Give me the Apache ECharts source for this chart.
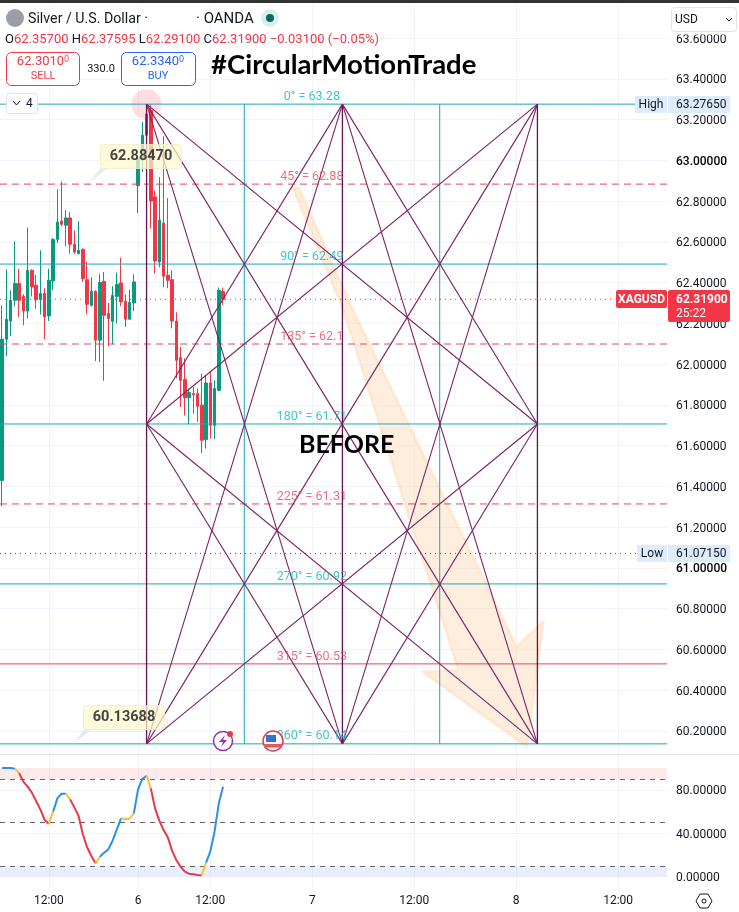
<!DOCTYPE html>
<html>
<head>
<meta charset="utf-8">
<style>html,body{margin:0;padding:0;background:#fff}#main{width:739px;height:912px}</style>
<script src="https://cdn.jsdelivr.net/npm/echarts@6/dist/echarts.min.js"></script>
</head>
<body>
<div id="main"></div>
<script>
// 30 min bars, [open, close, low, high]
var candles = [
  [61.430,62.123,61.303,62.289],[62.123,62.221,62.040,62.466],[62.212,62.314,62.139,62.363],[62.314,62.396,62.284,62.603],
  [62.396,62.314,62.232,62.469],[62.333,62.261,62.191,62.343],[62.261,62.461,62.224,62.671],[62.461,62.379,62.333,62.466],
  [62.388,62.317,62.273,62.437],[62.317,62.347,62.244,62.559],[62.347,62.232,62.123,62.373],[62.237,62.412,62.212,62.469],
  [62.409,62.613,62.363,62.618],[62.613,62.698,62.595,62.859],[62.703,62.687,62.677,62.898],[62.682,62.718,62.579,62.756],
  [62.718,62.589,62.543,62.747],[62.589,62.551,62.543,62.657],[62.543,62.559,62.540,62.702],[62.563,62.420,62.404,62.569],
  [62.415,62.294,62.245,62.502],[62.289,62.358,62.284,62.427],[62.358,62.118,62.016,62.363],[62.118,62.401,62.011,62.442],
  [62.407,62.240,61.918,62.453],[62.249,62.224,62.088,62.301],[62.211,62.338,62.098,62.383],[62.333,62.391,62.202,62.450],
  [62.399,62.306,62.284,62.523],[62.309,62.221,62.183,62.343],[62.221,62.304,62.221,62.366],[62.301,62.404,62.260,62.442],
  [62.876,63.011,62.742,63.026],[63.001,63.124,62.944,63.189],[63.124,63.227,63.109,63.276],[63.246,62.801,62.666,63.276],
  [62.821,62.507,62.445,62.854],[62.502,62.707,62.476,62.919],[62.693,62.432,62.378,63.119],[62.437,62.412,62.373,62.815],
  [62.415,62.212,62.176,62.461],[62.212,62.019,61.931,62.255],[62.033,61.921,61.790,62.085],[61.926,61.836,61.749,62.029],
  [61.836,61.861,61.705,61.881],[61.856,61.850,61.758,61.888],[61.856,61.794,61.717,61.881],[61.799,61.627,61.564,61.954],
  [61.630,61.908,61.586,61.946],[61.908,61.700,61.635,61.961],[61.700,61.881,61.632,61.921],[61.872,62.363,61.869,62.377],
  [62.357,62.319,62.291,62.376]
];
var oscValues = [100.1,100.1,100.1,99.5,95.2,87.5,82.9,77.4,69.7,62,52.2,48.8,59.9,72.1,76.4,76.4,71.2,63.8,55.9,39,27,19,12.2,18.4,22,25.1,33.1,43.6,53.7,53.1,53.4,58.3,80.4,90,93,81.3,62.9,51.6,42.9,36.2,23.9,15.3,9.2,4.6,2.7,2.1,1.5,1.2,12.8,23,41.4,67.5,82.9];
// colour runs of the oscillator: [from bar, to bar, colour]
var oscRuns = [[0,3,'#2e8fe8'],[3,4,'#f5c13c'],[4,11,'#e8394a'],[11,12,'#f5c13c'],[12,15,'#2e8fe8'],[15,16,'#f5c13c'],[16,22,'#e8394a'],[22,23,'#f5c13c'],[23,28,'#2e8fe8'],[28,31,'#f5c13c'],[31,34,'#2e8fe8'],[34,35,'#f5c13c'],[35,47,'#e8394a'],[47,48,'#f5c13c'],[48,52,'#2e8fe8']];

var slotCount = 157;
var timeBars = [11,32,49,73,97,121,145];
var timeLabels = ['12:00','6','12:00','7','12:00','8','12:00'];
var priceTicks = [60.2,60.4,60.6,60.8,61,61.2,61.4,61.6,61.8,62,62.2,62.4,62.6,62.8,63,63.2,63.4,63.6];
var oscTicks = [0,40,80];

// gann square
var levels = [63.2765,62.884,62.4916,62.0992,61.7067,61.3143,60.9218,60.5294,60.1369];
var levelText = ['0° = 63.28','45° = 62.88','90° = 62.49','135° = 62.1','180° = 61.71','225° = 61.31','270° = 60.92','315° = 60.53','360° = 60.14'];
var boxBars = [34.5,57.5,80.6,103.5,126.5];
// each edge: [bar index, level index, bar index, level index]
var gannEdges = [
  [0,0,4,8],[0,8,4,0],[0,0,2,8],[0,0,4,4],[4,0,2,8],[4,0,0,4],[0,8,2,0],[0,8,4,4],
  [4,8,2,0],[4,8,0,4],[0,4,2,0],[0,4,2,8],[4,4,2,0],[4,4,2,8]
];
var lastPrice = 62.319, lowPrice = 61.0715;

// the hand drawn arrow, in bars and prices
var arrowBars = [68.97,70.39,83.1,107.1,121.6,127.9,124,99.5,107.9,96.5,80.8];
var arrowPrices = [62.865,62.865,62.266,61.236,60.614,60.737,60.123,60.491,60.499,61.236,62.266];

var teal = '#17a9ba', red = '#dd4a5c', purple = '#7d2160', darkPurple = '#661150';
var font = 'Roboto', textColor = '#131722';

var categories = [];
for (var i = 0; i < slotCount; i++) {
  var t = timeBars.indexOf(i);
  categories.push(t >= 0 ? timeLabels[t] : '');
}
var hasLabel = function (idx, val) { return val !== ''; };

function flatLine(level, fromBar, toBar, color, type, width) {
  return {
    type: 'line', xAxisIndex: 1, yAxisIndex: 0, symbol: 'none', silent: true, z: 4, animation: false,
    lineStyle: { color: color, type: type, width: width },
    data: [[fromBar, level], [toBar, level]]
  };
}
function edgeLine(a, b, c, d, color, width) {
  return {
    type: 'line', xAxisIndex: 1, yAxisIndex: 0, symbol: 'none', silent: true, z: 5, animation: false,
    lineStyle: { color: color, width: width },
    data: [[boxBars[a], levels[b]], [boxBars[c], levels[d]]]
  };
}

var series = [];
series.push({
  type: 'custom', xAxisIndex: 1, yAxisIndex: 0, z: 1, silent: true, data: [[0, 60.2]],
  renderItem: function (params, api) {
    var pts = arrowBars.map(function (b, k) { return api.coord([b, arrowPrices[k]]); });
    return {
      type: 'polygon', shape: { points: pts },
      style: { fill: 'rgba(255,214,176,0.42)', stroke: 'rgba(255,214,176,0.42)', lineWidth: 3, lineJoin: 'round' }
    };
  }
});
series.push({
  type: 'candlestick', xAxisIndex: 0, yAxisIndex: 0, z: 2, barWidth: 3, silent: true,
  itemStyle: { color: '#089981', color0: '#f23645', borderColor: '#089981', borderColor0: '#f23645', borderWidth: 1 },
  data: candles
});
series.push({
  type: 'scatter', xAxisIndex: 1, yAxisIndex: 0, z: 3, silent: true, symbolSize: 30,
  itemStyle: { color: 'rgba(242,54,69,0.2)' }, data: [[boxBars[0], levels[0]]]
});
levels.forEach(function (lv, k) {
  var isTeal = k % 2 === 0;
  var type = k === 7 || isTeal ? 'solid' : [7, 5];
  series.push(flatLine(lv, 0, slotCount, isTeal ? teal : red, type, 1));
});
series.push(flatLine(lastPrice, 0, 144.5, '#f23645', [1, 4], 1));
series.push(flatLine(lowPrice, 0, 150, '#555', [1, 4], 1));
series.push(edgeLine(1, 0, 1, 8, teal, 1));
series.push(edgeLine(3, 0, 3, 8, teal, 1));
series.push(edgeLine(0, 0, 0, 8, darkPurple, 1.3));
series.push(edgeLine(2, 0, 2, 8, darkPurple, 1.3));
series.push(edgeLine(4, 0, 4, 8, darkPurple, 1.3));
gannEdges.forEach(function (e) { series.push(edgeLine(e[0], e[1], e[2], e[3], purple, 1.1)); });
series.push({
  type: 'scatter', xAxisIndex: 1, yAxisIndex: 0, z: 6, symbolSize: 0, silent: true,
  data: levels.map(function (lv, k) {
    return {
      value: [73.4, lv],
      label: {
        show: true, position: 'top', distance: 1, formatter: levelText[k], fontFamily: font, fontSize: 12.5,
        color: k % 2 === 0 ? '#14b4c6' : '#ea4a5e'
      }
    };
  })
});

// oscillator pane
oscRuns.forEach(function (run) {
  var seg = [];
  for (var b = run[0]; b <= run[1]; b++) seg.push([b, oscValues[b]]);
  series.push({
    type: 'line', xAxisIndex: 2, yAxisIndex: 1, symbol: 'none', z: 5, silent: true, animation: false,
    lineStyle: { color: run[2], width: 2 }, data: seg
  });
});
series.push({
  type: 'line', xAxisIndex: 2, yAxisIndex: 1, symbol: 'none', silent: true, z: 2, data: [],
  markArea: {
    silent: true,
    data: [
      [{ yAxis: 90, itemStyle: { color: 'rgba(242,54,69,0.11)' } }, { yAxis: 100 }],
      [{ yAxis: 0, itemStyle: { color: 'rgba(41,98,255,0.1)' } }, { yAxis: 10 }]
    ]
  },
  markLine: {
    silent: true, symbol: 'none', label: { show: false },
    lineStyle: { color: '#666', type: [5, 5], width: 1 },
    data: [{ yAxis: 90 }, { yAxis: 50 }, { yAxis: 10 }]
  }
});

function axisLabelRich(dec) {
  return { fontFamily: font, fontSize: 12, color: textColor, margin: 9, padding: [3, 0, 0, 0],
    formatter: function (v) {
      var s = v.toFixed(dec);
      return (v === 63 || v === 61) ? '{b|' + s + '}' : s;
    },
    rich: { b: { fontFamily: font, fontSize: 12, fontWeight: 500, color: '#000' } }
  };
}
var gridLine = { show: true, lineStyle: { color: '#f0f3fa', width: 1 } };

function tx(x, y, text, size, color, extra) {
  var st = { x: x, y: y, text: text, fontFamily: font, fontSize: size, fill: color, verticalAlign: 'middle' };
  for (var k in (extra || {})) st[k] = extra[k];
  return { type: 'text', z: 50, style: st };
}
function box(x, y, w, h, fill, stroke, r) {
  return { type: 'rect', z: 49, shape: { x: x, y: y, width: w, height: h, r: r || 0 }, style: { fill: fill, stroke: stroke || null, lineWidth: 1 } };
}
function dot(x, y, r, fill, stroke, lw) {
  return { type: 'circle', z: 49, shape: { cx: x, cy: y, r: r }, style: { fill: fill, stroke: stroke || null, lineWidth: lw || 1 } };
}
function poly(points, fill, stroke, close) {
  return { type: close === false ? 'polyline' : 'polygon', z: 49, shape: { points: points }, style: { fill: fill, stroke: stroke || null, lineWidth: 1 } };
}

var graphics = [
  box(0, 0, 739, 3, '#333'),
  { type: 'line', z: 3, shape: { x1: 0, y1: 754.5, x2: 739, y2: 754.5 }, style: { stroke: '#e0e3eb', lineWidth: 1 } },
  // header
  dot(15, 18, 9, '#9c9ea6'),
  tx(28, 19, 'Silver / U.S. Dollar ·', 14.2, textColor),
  tx(196, 19, '· OANDA', 15, textColor),
  dot(270, 18, 9, '#d8efec'),
  dot(270, 18, 4, '#0b6b5b'),
  tx(5, 40, '{k|O}{v|62.35700} {k|H}{v|62.37595} {k|L}{v|62.29100} {k|C}{v|62.31900} {v|−0.03100 (−0.05%)}', 13, textColor, {
    rich: {
      k: { fontFamily: font, fontSize: 13, fill: textColor, color: textColor },
      v: { fontFamily: font, fontSize: 13, fill: '#f23645', color: '#f23645' }
    }
  }),
  box(6.5, 52.5, 73, 33, '#fff', '#f23645', 5),
  tx(43, 62, '{a|62.3010}{b|0}', 13, '#f23645', { align: 'center', rich: { a: { fontFamily: font, fontSize: 13, color: '#f23645' }, b: { fontFamily: font, fontSize: 9, color: '#f23645', verticalAlign: 'top' } } }),
  tx(43, 76, 'SELL', 11, '#f23645', { align: 'center' }),
  tx(101, 69, '330.0', 11, textColor, { align: 'center' }),
  box(121.5, 52.5, 74, 33, '#fff', '#2962ff', 5),
  tx(158, 62, '{a|62.3340}{b|0}', 13, '#2962ff', { align: 'center', rich: { a: { fontFamily: font, fontSize: 13, color: '#2962ff' }, b: { fontFamily: font, fontSize: 9, color: '#2962ff', verticalAlign: 'top' } } }),
  tx(158, 76, 'BUY', 11, '#2962ff', { align: 'center' }),
  tx(211, 65, '#CircularMotionTrade', 27.5, '#000', { fontWeight: 'bold', fontFamily: 'Lato' }),
  tx(299, 445, 'BEFORE', 25, '#000', { fontWeight: 'bold', fontFamily: 'Lato' }),
  box(6.5, 93.5, 31, 20, '#fff', '#e0e3eb', 3),
  poly([[13, 101], [16.5, 105], [20, 101]], 'none', textColor, false),
  tx(26, 104, '4', 12, textColor),
  // callouts
  poly([[89, 183], [100, 168], [108, 168]], '#e9ecef'),
  box(100.5, 144.5, 81, 24, 'rgba(255,248,205,0.72)', 'rgba(240,236,200,0.8)', 3),
  tx(141, 156.5, '62.88470', 14.5, '#444', { align: 'center', fontWeight: 'bold' }),
  poly([[73, 744], [84, 729], [93, 729]], '#e9ecef'),
  box(83.5, 705.5, 81, 24, 'rgba(255,248,205,0.72)', 'rgba(240,236,200,0.8)', 3),
  tx(124, 717, '60.13688', 14.5, '#444', { align: 'center', fontWeight: 'bold' }),
  // event icons
  dot(223, 741, 9.5, '#fff', '#8e35b5', 1.5),
  poly([[225, 735], [219, 742], [223, 742], [221, 747], [227, 740], [223, 740]], '#8e35b5'),
  dot(230, 734, 3, '#f23645'),
  dot(273, 741, 10, '#fff', '#e53a4b', 1.5),
  box(266, 735, 10, 7, '#2f73d8'),
  box(264, 744, 18, 3.5, '#e5566a'),
  // price axis tags
  box(672, 32, 64, 2.5, '#fff'),
  box(671.5, 7.5, 65, 24, '#fff', '#e0e3eb', 3),
  tx(675, 19.5, 'USD', 12, textColor),
  poly([[726, 18], [729, 21], [732, 18]], 'none', textColor, false),
  box(635, 96, 32, 17, '#deebfb'),
  tx(651, 105, 'High', 12, textColor, { align: 'center' }),
  box(668, 96, 62, 17, '#deebfb'),
  tx(676, 105, '63.27650', 12, textColor),
  box(637, 545, 30, 17, '#deebfb'),
  tx(652, 554, 'Low', 12, textColor, { align: 'center' }),
  box(668, 545, 62, 17, '#deebfb'),
  tx(676, 554, '61.07150', 12, textColor),
  box(616, 290, 51, 18, '#f23645', null, 2),
  tx(641.5, 299.5, 'XAGUSD', 12, '#fff', { align: 'center', fontWeight: 'bold' }),
  box(668, 290, 62, 32, '#f23645', null, 2),
  tx(676, 300, '62.31900', 12, '#fff', { fontWeight: 'bold' }),
  tx(676, 314, '25:22', 12, '#fff'),
  // settings icon
  poly([[696, 901], [700, 894], [708, 894], [712, 901], [708, 908], [700, 908]], 'none', textColor),
  dot(704, 901, 2, 'none', textColor)
];

var option = {
  animation: false,
  backgroundColor: '#fff',
  textStyle: { fontFamily: font },
  grid: [
    { left: 0, right: 72, top: 4, height: 750 },
    { left: 0, right: 72, top: 755, height: 133 }
  ],
  xAxis: [
    { type: 'category', gridIndex: 0, position: 'bottom', data: categories, boundaryGap: true, axisLine: { show: false }, axisTick: { show: false }, axisLabel: { show: false },
      splitLine: { show: true, interval: hasLabel, alignWithLabel: true, lineStyle: gridLine.lineStyle } },
    { type: 'value', gridIndex: 0, position: 'top', min: 0, max: slotCount, show: false },
    { type: 'value', gridIndex: 1, position: 'top', min: -0.5, max: slotCount - 0.5, show: false },
    { type: 'category', gridIndex: 1, position: 'bottom', data: categories, boundaryGap: true, axisLine: { show: false }, axisTick: { show: false },
      axisLabel: { show: true, interval: hasLabel, hideOverlap: false, fontFamily: font, fontSize: 12, color: textColor, margin: 7 },
      splitLine: { show: true, interval: hasLabel, alignWithLabel: true, lineStyle: gridLine.lineStyle } }
  ],
  yAxis: [
    { type: 'value', gridIndex: 0, position: 'right', min: 60.0871, max: 63.768, scale: true,
      axisLine: { show: false }, axisTick: { show: false, customValues: priceTicks },
      axisLabel: Object.assign(axisLabelRich(5), { customValues: priceTicks }), splitLine: gridLine },
    { type: 'value', gridIndex: 1, position: 'right', min: -10.5, max: 112.07,
      axisLine: { show: false }, axisTick: { show: false, customValues: oscTicks },
      axisLabel: Object.assign(axisLabelRich(5), { customValues: oscTicks }), splitLine: gridLine }
  ],
  series: series,
  graphic: graphics
};

var chart = echarts.init(document.getElementById('main'));
chart.setOption(option);
</script>
</body>
</html>
